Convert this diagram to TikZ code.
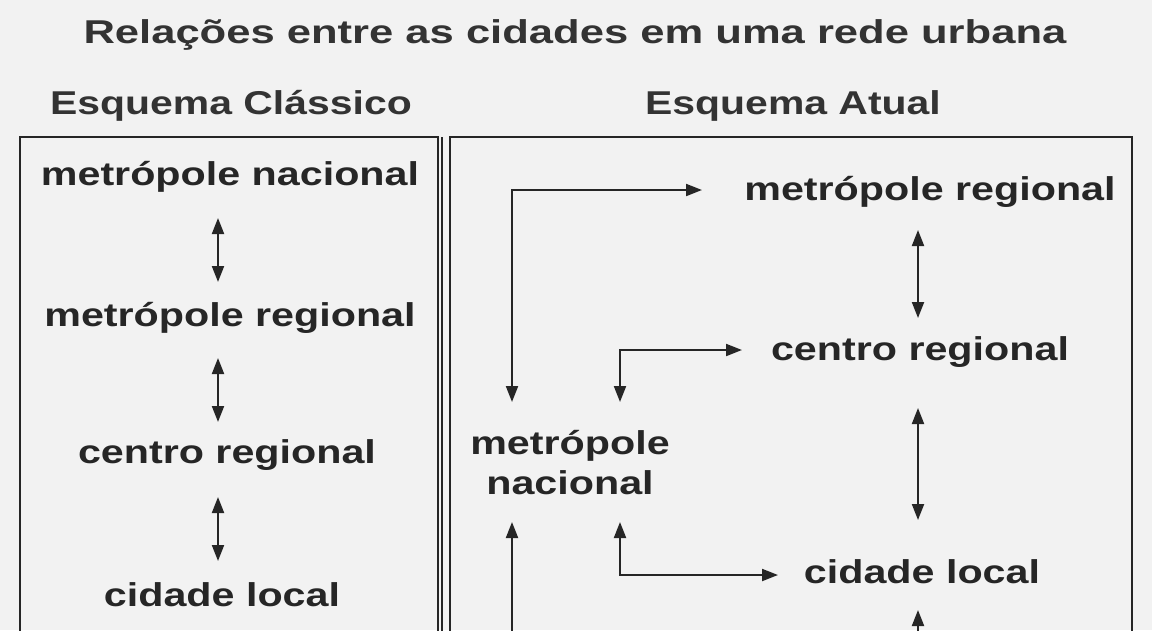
\documentclass[tikz,border=0pt]{standalone}
\usepackage{fontspec}
\setmainfont{Liberation Sans}
\usetikzlibrary{arrows.meta}
\begin{document}
\begin{tikzpicture}[x=1pt,y=-1pt,
  lbl/.style={font=\bfseries\fontsize{33}{36}\selectfont, text=black!85, inner sep=0pt, xscale=1.25},
  hd/.style={font=\bfseries\fontsize{33}{36}\selectfont, text=black!80, inner sep=0pt},
  tip/.tip={Triangle[length=16pt,width=12pt]},
  arr/.style={line width=2pt, black!85, tip-tip},
  box/.style={line width=1.6pt, black!85}]
\fill[black!5] (0,0) rectangle (1152,630);
\useasboundingbox (0,0) rectangle (1152,630);
\begin{scope}
\clip (0,0) rectangle (1152,630);
\node[hd, xscale=1.32] (title) at (575,35) {Relações entre as cidades em uma rede urbana};
\node[hd, xscale=1.24] (h1) at (231,106) {Esquema Clássico};
\node[hd, xscale=1.24] (h2) at (793,106) {Esquema Atual};
\draw[box] (20,700) -- (20,137) -- (438,137) -- (438,700);
\draw[box] (442,137) -- (442,700);
\draw[box] (450,700) -- (450,137) -- (1132,137) -- (1132,700);
% left
\node[lbl] (a1) at (230,177) {metrópole nacional};
\node[lbl] (a2) at (230,318) {metrópole regional};
\node[lbl] (a3) at (227,455) {centro regional};
\node[lbl] (a4) at (222,595) {cidade local};
\draw[arr] (218,218) -- (218,282);
\draw[arr] (218,358) -- (218,422);
\draw[arr] (218,497) -- (218,561);
\draw[arr] (218,637) -- (218,700);
% right
\node[lbl] (b1) at (930,192) {metrópole regional};
\node[lbl] (b2) at (920,352) {centro regional};
\node[lbl] (b3) at (922,572) {cidade local};
\node[lbl, align=center] (b0) at (570,463) {metrópole\\[4pt]nacional};
\draw[arr] (918,230) -- (918,318);
\draw[arr] (918,408) -- (918,520);
\draw[arr] (918,610) -- (918,700);
\draw[arr] (512,402) |- (702,190);
\draw[arr] (620,402) |- (742,350);
\draw[arr] (620,522) |- (778,575);
\draw[line width=2pt, black!85, tip-] (512,522) -- (512,700);
\end{scope}
\end{tikzpicture}
\end{document}
